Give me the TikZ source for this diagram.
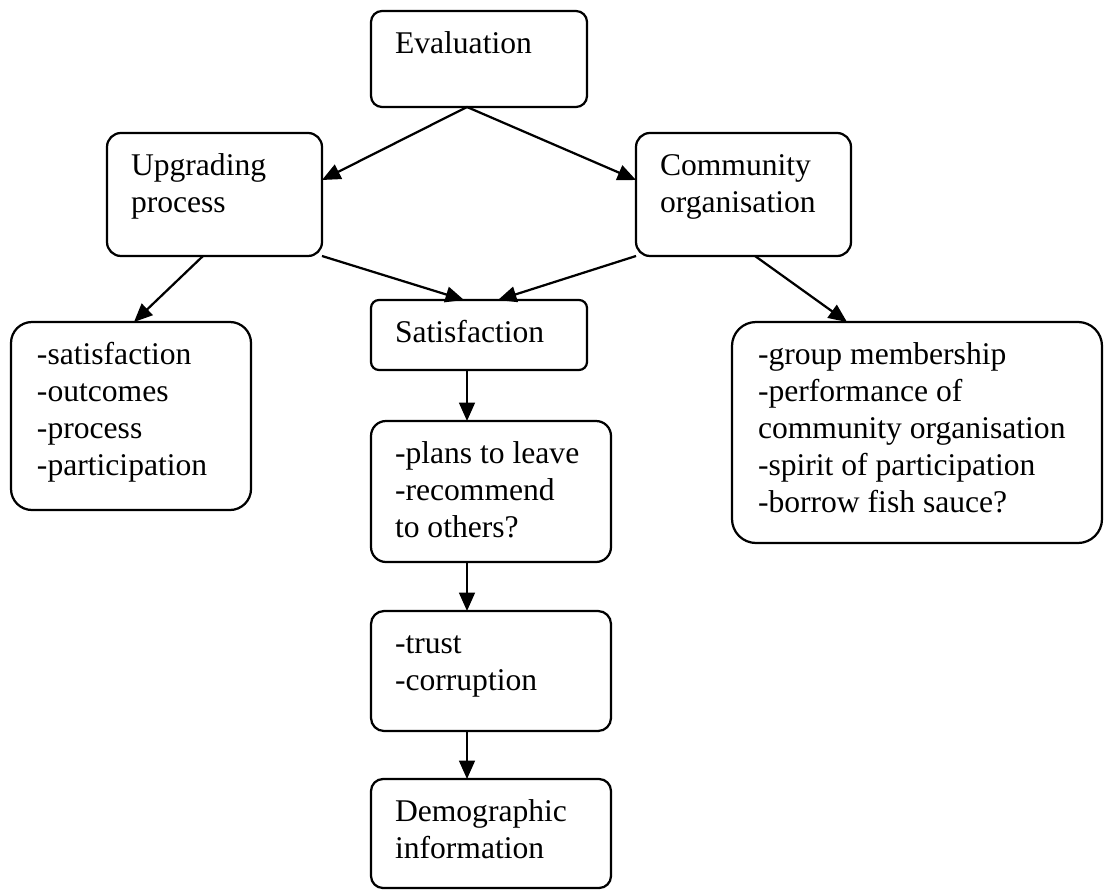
\documentclass[tikz,border=0pt]{standalone}
\usepackage{fontspec}
\setmainfont{Liberation Serif}
\usetikzlibrary{arrows.meta}
% one drawing unit = one pixel of the 1104 x 895 sheet
\newdimen\px
\px=0.3797pt
% box body: width, height, text set flush left from the top
\newcommand\bx[4][24]{\parbox[t][#3\px][t]{#2\px}{\raggedright\leftskip=#1\px\vspace*{17\px}\strut #4}}
\begin{document}
\begin{tikzpicture}[x=\px, y=-\px,
  font=\fontsize{12pt}{37\px}\selectfont,
  box/.style={draw, line width=0.85pt, inner sep=0pt, outer sep=0pt, anchor=north west},
  arr/.style={line width=0.85pt, -{Triangle[length=7pt, width=6pt]}}]
\fill[white] (0,0) rectangle (1104,895);
\useasboundingbox (0,0) rectangle (1104,895);

% boxes
\node[box, rounded corners=11\px] (eval)  at (371,11)  {\bx{216}{96}{Evaluation}};
\node[box, rounded corners=14\px] (upg)   at (107,133) {\bx{215}{123}{Upgrading\\process}};
\node[box, rounded corners=14\px] (com)   at (636,133) {\bx{215}{123}{Community\\organisation}};
\node[box, rounded corners=8\px]  (sat)   at (371,300) {\bx{216}{70}{Satisfaction}};
\node[box, rounded corners=21\px] (ulist) at (11,322)  {\bx[26]{240}{188}{-satisfaction\\-outcomes\\-process\\-participation}};
\node[box, rounded corners=24\px] (clist) at (732,322) {\bx[26]{370}{221}{-group membership\\-performance of\\community organisation\\-spirit of participation\\-borrow fish sauce?}};
\node[box, rounded corners=15\px] (plans) at (371,421) {\bx{240}{141}{-plans to leave\\-recommend\\to others?}};
\node[box, rounded corners=13\px] (trust) at (371,611) {\bx{240}{120}{-trust\\-corruption}};
\node[box, rounded corners=12\px] (demo)  at (371,779) {\bx{240}{109}{Demographic\\information}};

% common vertical line of the middle column
\coordinate (spine) at (467,0);

% connectors
\draw[arr] (eval.south -| spine) -- (upg.east |- 0,180);
\draw[arr] (eval.south -| spine) -- (com.west |- 0,180);
\draw[arr] (upg.south -| 203,0) -- (ulist.north -| 134,0);
\draw[arr] (upg.south east) -- (sat.north -| 464,0);
\draw[arr] (com.south west) -- (sat.north -| 498,0);
\draw[arr] (com.south -| 755,0) -- (clist.north -| 847,0);
\draw[arr] (sat.south -| spine) -- (plans.north -| spine);
\draw[arr] (plans.south -| spine) -- (trust.north -| spine);
\draw[arr] (trust.south -| spine) -- (demo.north -| spine);
\end{tikzpicture}
\end{document}
